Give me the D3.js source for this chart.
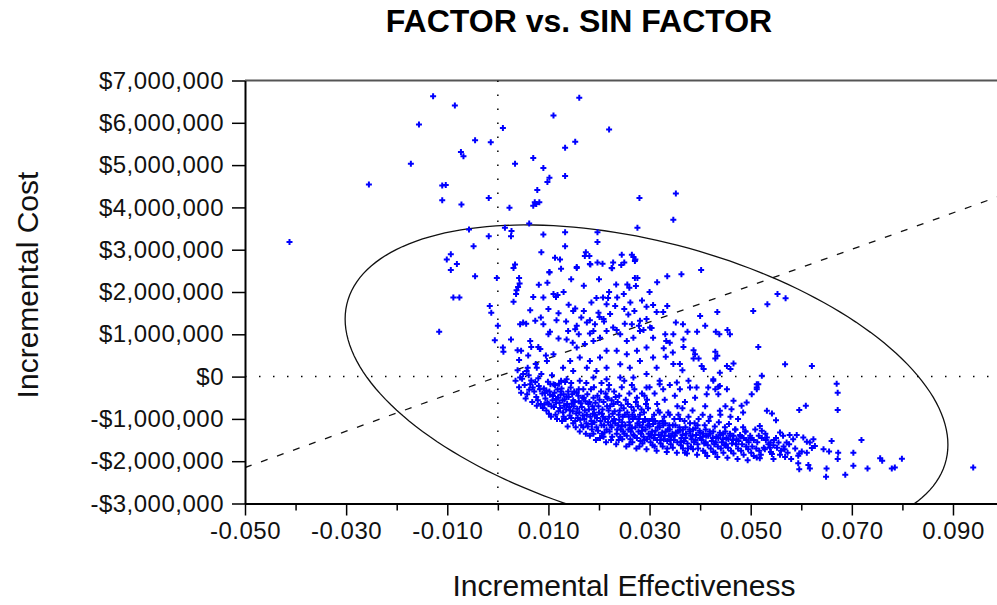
<!DOCTYPE html>
<html lang="en">
<head>
<meta charset="UTF-8">
<title>FACTOR vs. SIN FACTOR</title>
<script src="https://d3js.org/d3.v7.min.js"></script>
<style>
  body { margin: 0; background: #fff; }
  svg { display: block; font-family: "Liberation Sans", Arial, sans-serif; }
  .tick text { font-size: 24px; fill: #111; letter-spacing: 0.5px; }
  .title { font-size: 32px; font-weight: bold; }
  .axis-title { font-size: 30px; fill: #111; }
</style>
</head>
<body>
<svg id="chart" width="997" height="605"></svg>
<script>
// axis ticks
const xTicks = [-0.05, -0.03, -0.01, 0.01, 0.03, 0.05, 0.07, 0.09];
const xMinorTicks = [-0.04, -0.02, 0, 0.02, 0.04, 0.06, 0.08];
const yTicks = [-3000000, -2000000, -1000000, 0, 1000000, 2000000, 3000000, 4000000, 5000000, 6000000, 7000000];

// willingness-to-pay line (effectiveness, cost)
const wtpLine = [[-0.05, -2150000], [0.10, 4300000]];

// confidence ellipse: centre, half-widths, phase of cost vs effectiveness (deg)
const ellipseCentre = [0.0294, -125000];
const ellipseRadii = [0.0596, 3710000];
const ellipsePhase = 66.4;

// simulation iterations: [incremental effectiveness x1000, incremental cost in $ thousands]
const iterations = [
  // sparse upper cloud
  [-12.8,6630],[-8.5,6410],[-15.6,5960],[1.0,5880],[-4.5,5590],[-1.4,5540],[-7.3,5310],[-6.8,5210],[-17.2,5030],
  [-25.5,4540],[-11.0,4520],[-10.3,4530],[-11.0,4170],[-7.2,4070],[-1.8,4220],[-41.2,3180],[-5.7,3480],[-1.8,3320],
  [-4.8,3080],[-9.3,2890],[-10.1,2770],[-8.1,2660],[-9.3,2520],[-4.5,2370],[-0.2,2330],
  [16.1,6590],[11.0,6170],[22.0,5840],[15.3,5550],[13.3,5410],[7.0,5170],[3.4,5030],[9.0,4930],[10.2,4700],[9.8,4600],
  [13.3,4740],[7.8,4410],[7.3,4120],[8.2,4120],[7.0,4040],[7.6,4080],[2.3,3990],[28.0,4220],[35.2,4330],[34.7,3710],
  [27.6,3520],[6.2,3620],[1.4,3520],[2.7,3440],[2.6,3320],[9.0,3360],[13.3,3410],[19.7,3410],[19.7,3180],[13.3,3080],
  [8.6,2940],[17.4,2940],[17.2,2850],[18.1,2850],[11.3,2810],[12.3,2770],[19.7,2700],[18.2,2660],[22.8,2700],[22.5,2570],
  [24.5,2880],[26.5,2880],[26.8,2830],[27.2,2770],[25.0,2700],[3.4,2650],[3.1,2570],[10.2,2470],[15.6,2570],[4.2,2330],
  [27.6,2330],[31.5,2230],[33.5,2370],[36.3,2420],[40.2,2520],
  // middle left
  [-11.6,1060],[-8.8,1870],[-7.6,1870],[-1.6,1670],[-1.3,1510],[0.0,1200],[-0.6,860],[1.0,690],[1.1,590],[2.6,880],
  [3.1,1770],[4.0,2120],[4.3,2200],[3.7,2040],[3.6,1950],[6.4,1570],[5.0,1280],[4.4,1240],[5.6,1250],[7.4,1320],
  [9.0,1240],[8.1,2170],[9.8,2220],[7.0,1880],[9.0,1870],[10.2,2460],[11.0,1950],[11.5,1880],[13.0,2000],[11.8,1930],
  [10.3,1060],[11.6,1330],[15.3,1610],[14.9,1550],[15.6,2590],[18.3,2650],[20.7,2670],[22.6,2560],[24.4,2640],[27.1,2730],
  [18.5,1750],[19.5,1860],[20.8,1870],[21.8,1860],[21.5,1710],[19.9,1510],[20.1,1410],[20.9,1360],[22.2,1480],[23.2,1670],
  [23.6,1870],[24.9,1950],[23.4,2180],[25.6,2180],[27.1,2330],[27.3,2140],[26.2,1750],[25.8,1470],[25.1,1250],[26.5,1240],
  [27.9,1200],[6.6,700],[4.6,610],[4.2,390],[3.9,620],[8.0,700],[8.4,650],
  [16.5,1400],[17.0,1550],[14.0,1700],[12.0,1500],[10.0,1600],[8.5,1400],[13.5,1300],[21.0,1300],[23.5,1100],[25.0,1600],
  [27.0,1550],[28.5,1800],[30.0,2000],[26.0,2100],[22.0,2000],[20.0,2300],[17.0,2150],[14.5,2300],[12.5,2550],[16.0,1000],
  [12.0,900],[10.0,1000],[9.5,500],[7.5,300],[6.0,500],
  [13.9,1080],[15.3,1120],[15.6,1200],[17.6,1280],[18.2,1330],[19.2,1240],[18.9,1080],[18.2,1020],[13.6,880],[14.8,800],
  [15.6,690],[17.2,770],[18.9,840],[20.2,920],[21.5,1080],[22.8,1160],[24.2,1000],[25.5,840],[26.8,920],[28.1,1080],
  [30.1,1160],[30.7,920],[29.4,690],[27.5,610],[25.5,530],[23.5,610],[21.5,610],[20.2,450],[18.2,370],[16.2,450],
  [14.3,370],[12.9,210],[14.9,130],[17.6,210],[19.5,130],[21.5,210],[24.2,290],[26.1,210],[28.1,370],[30.7,450],
  [31.4,210],[29.4,60],[26.8,-20],[24.2,-20],[21.5,-60],[18.9,-20],[16.2,-100],[13.6,-60],[11.0,-180],[9.7,370],
  [11.0,530],[8.3,650],[6.4,840],[7.7,210],[5.7,130],[4.4,-20],[6.4,-180],
  // middle right
  [55.3,1950],[56.9,1850],[53.3,1710],[50.5,1550],[43.4,1530],[40.0,1430],[33.5,1670],[30.7,1690],[29.4,1650],[31.4,1530],
  [32.7,1530],[28.1,1320],[29.4,1360],[30.4,1150],[28.8,1100],[35.2,1280],[36.6,1240],[41.0,1200],[37.5,1060],[39.4,1060],
  [43.1,1060],[43.8,1000],[45.4,1100],[45.9,1000],[51.5,700],[34.7,1000],[33.1,1000],[36.7,880],[36.7,700],[33.3,840],
  [34.0,800],[32.8,670],[34.6,570],[38.7,620],[39.0,530],[38.7,430],[39.7,430],[40.3,250],[40.7,180],[43.0,590],
  [43.4,490],[43.0,430],[45.3,250],[46.0,180],[46.6,310],[33.2,470],[34.7,300],[36.0,300],[36.5,150],[56.8,290],
  [62.1,250],[52.2,20],[51.2,-180],[51.2,-260],[43.9,90],
  [42.6,-100],[43.6,-240],[41.6,-260],[39.3,-260],[37.7,-100],[38.0,-260],[35.4,-140],[36.0,-300],[32.0,-180],[29.4,-260],
  [32.7,-300],
  // right tail
  [67.0,-170],[67.2,-380],[67.2,-790],[94.0,-2150],[79.9,-1940],[78.5,-2150],[77.9,-2170],[75.6,-1930],[76.0,-1990],
  [71.9,-1500],[70.3,-1800],[70.3,-2110],[68.7,-2320],[73.1,-2170],[65.0,-2170],[64.9,-2370],[67.3,-1800],[67.2,-1950],
  [66.0,-1520],[65.5,-1770],[64.4,-1720],[62.4,-1480],[61.7,-1560],[62.7,-1640],[62.1,-1690],[59.6,-2190],[61.4,-2090],
  [61.7,-2170],[59.6,-1820],[59.4,-1870],[60.1,-1770],[61.1,-1800],[59.6,-790],[60.9,-690],[60.4,-1440],[61.1,-1540],
  [59.1,-1380],[53.2,-810],[54.2,-870],[55.0,-1030],[51.8,-1170],[52.2,-1280],[53.2,-1440],[53.9,-1560],[52.8,-1720],
  [54.2,-1830],[51.2,-1910],[51.8,-1930],[55.8,-1320],[56.4,-1400],[57.7,-1380],[58.4,-1480],[57.1,-1560],[55.5,-1560],
  [56.7,-1720],[50.2,-420],[51.5,-180],[51.2,-300],[48.2,-690],[49.2,-610],[46.6,-570],[46.2,-770],[43.9,-810],
  [42.6,-60],[43.9,-220],[45.3,-300],[41.3,-420],[43.6,-420],
  // dense band
  [3.5,-100],[4.2,-250],[4.8,-50],[3.9,150],[4.6,-380],[5.0,60],
  [5.3,-200],[5.8,-420],[6.2,-310],[6.6,-90],[5.5,-520],[6.9,-260],[6.1,30],[6.8,-600],[5.9,210],
  [7.2,-350],[7.6,-480],[8.1,-220],[8.5,-650],[7.9,-560],[8.8,-400],[7.4,-130],[8.3,-300],[8.9,-740],[7.7,-690],[8.6,60],[8.0,-40],
  [9.1,-280],[9.4,-520],[9.8,-610],[10.2,-350],[10.6,-700],[10.9,-460],[9.6,-800],[10.4,-180],[10.1,-880],[9.3,-390],
  [10.8,-560],[9.9,-120],[10.5,-950],[9.2,-660],[10.7,30],
  [11.2,-380],[11.5,-620],[11.9,-500],[12.3,-740],[12.6,-280],[12.9,-850],[11.4,-900],[12.1,-170],[12.8,-560],[11.7,-1000],
  [12.4,-430],[11.1,-720],[12.7,-1050],[11.8,-300],[12.2,-620],[13.0,-420],
  [13.2,-540],[13.5,-780],[13.9,-350],[14.2,-920],[14.6,-640],[14.9,-1100],[13.4,-1000],[14.0,-480],[14.4,-260],[13.7,-650],
  [14.8,-820],[13.3,-130],[14.1,-720],[14.7,-420],[13.8,-1180],[14.5,-980],
  [15.2,-600],[15.5,-870],[15.9,-450],[16.3,-1020],[16.6,-720],[16.9,-300],[15.4,-1200],[16.0,-580],[16.5,-1150],[15.7,-760],
  [16.8,-920],[15.1,-350],[16.2,-1300],[15.8,-980],[16.7,-500],[15.3,-1050],
  [17.2,-800],[17.5,-1100],[17.9,-650],[18.3,-950],[18.6,-1250],[18.9,-500],[17.4,-1350],[18.0,-780],[18.5,-1050],[17.7,-420],
  [18.8,-880],[17.1,-1000],[18.2,-1400],[17.8,-1180],[18.7,-700],[17.3,-580],[18.4,-300],
  [19.2,-900],[19.5,-1200],[19.9,-700],[20.3,-1050],[20.6,-1350],[20.9,-600],[19.4,-1500],[20.0,-850],[20.5,-1150],[19.7,-450],
  [20.8,-950],[19.1,-1080],[20.2,-1450],[19.8,-1280],[20.7,-780],[19.3,-620],[20.4,-350],
  [21.2,-1000],[21.5,-1250],[21.9,-800],[22.3,-1150],[22.6,-1420],[22.9,-650],[21.4,-1550],[22.0,-950],[22.5,-1200],[21.7,-520],
  [22.8,-1050],[21.1,-1320],[22.2,-700],[21.8,-1080],[22.7,-880],[21.3,-400],[22.4,-1500],
  [23.2,-1100],[23.5,-1350],[23.9,-900],[24.3,-1250],[24.6,-1480],[24.9,-750],[23.4,-1600],[24.0,-1020],[24.5,-1180],[23.7,-600],
  [24.8,-1300],[23.1,-820],[24.2,-1420],[23.8,-1150],[24.7,-950],[23.3,-480],[24.4,-680],
  [25.2,-1150],[25.5,-1400],[25.9,-950],[26.3,-1300],[26.6,-1550],[26.9,-800],[25.4,-1650],[26.0,-1080],[26.5,-1220],[25.7,-650],
  [26.8,-1380],[25.1,-900],[26.2,-1480],[25.8,-1250],[26.7,-1000],[25.3,-550],[26.4,-720],
  [27.2,-1200],[27.5,-1450],[27.9,-1000],[28.3,-1350],[28.6,-1580],[28.9,-850],[27.4,-1700],[28.0,-1150],[28.5,-1280],[27.7,-700],
  [28.8,-1420],[27.1,-950],[28.2,-1520],[27.8,-1300],[28.7,-1080],[27.3,-600],[28.4,-780],
  [29.2,-1250],[29.5,-1480],[29.9,-1050],[30.3,-1380],[30.6,-1620],[30.9,-900],[29.4,-1720],[30.0,-1180],[30.5,-1300],[29.7,-750],
  [30.8,-1450],[29.1,-1000],[30.2,-1550],[29.8,-1350],[30.7,-1120],[29.3,-650],
  [31.2,-1280],[31.5,-1500],[31.9,-1100],[32.3,-1400],[32.6,-1650],[32.9,-950],[31.4,-1750],[32.0,-1200],[32.5,-1320],[31.7,-800],
  [32.8,-1480],[31.1,-1050],[32.2,-1580],[31.8,-1380],[32.7,-1150],
  [33.2,-1300],[33.5,-1520],[33.9,-1150],[34.3,-1420],[34.6,-1680],[34.9,-1000],[33.4,-1780],[34.0,-1250],[34.5,-1350],[33.7,-850],
  [34.8,-1500],[33.1,-1100],[34.2,-1600],[33.8,-1400],
  [35.2,-1320],[35.5,-1550],[35.9,-1200],[36.3,-1450],[36.6,-1700],[36.9,-1050],[35.4,-1800],[36.0,-1280],[36.5,-1380],[35.7,-900],
  [36.8,-1520],[35.1,-1150],[36.2,-1620],
  [37.2,-1350],[37.5,-1580],[37.9,-1250],[38.3,-1480],[38.6,-1720],[38.9,-1100],[37.4,-1820],[38.0,-1300],[38.5,-1400],[37.7,-950],
  [38.8,-1550],[37.1,-1200],[38.2,-1650],
  [39.2,-1380],[39.5,-1600],[39.9,-1280],[40.3,-1500],[40.6,-1750],[40.9,-1150],[39.4,-1850],[40.0,-1330],[40.5,-1420],[39.7,-1000],
  [40.8,-1580],[39.1,-1220],
  [41.2,-1400],[41.5,-1620],[41.9,-1300],[42.3,-1520],[42.6,-1780],[42.9,-1180],[41.4,-1880],[42.0,-1350],[42.5,-1450],[41.7,-1050],
  [42.8,-1600],[41.1,-1250],
  [43.2,-1420],[43.5,-1650],[43.9,-1330],[44.3,-1550],[44.6,-1800],[44.9,-1200],[43.4,-1900],[44.0,-1380],[44.5,-1480],[43.7,-1080],
  [44.8,-1620],
  [45.2,-1450],[45.5,-1680],[45.9,-1350],[46.3,-1580],[46.6,-1820],[46.9,-1250],[45.4,-1920],[46.0,-1400],[46.5,-1500],[45.7,-1120],
  [47.2,-1480],[47.5,-1700],[47.9,-1380],[48.3,-1600],[48.6,-1850],[48.9,-1300],[47.4,-1950],[48.0,-1420],[48.5,-1200],
  [49.2,-1500],[49.5,-1720],[49.9,-1400],[50.3,-1650],[50.6,-1880],[50.9,-1250],[49.4,-1980],[50.0,-1450],
  [51.3,-1550],[51.7,-1750],[52.2,-1450],[52.6,-1680],[52.9,-1350],
  [53.5,-1600],[54.0,-1780],[54.6,-1500],[55.2,-1680],[55.8,-1850],
  [56.5,-1650],[57.3,-1800],[58.0,-1950],[58.8,-1700],[59.4,-2050],
  // band infill
  [9.6,-330],[10.3,-430],[11.3,-200],[11.6,-530],[12.0,-820],[12.5,-350],[13.1,-690],[13.6,-470],[14.3,-800],[14.9,-560],
  [13.0,-950],[10.0,-650],
  [15.0,-700],[15.6,-380],[16.1,-850],[16.4,-630],[17.0,-500],[17.6,-900],[18.1,-600],[18.6,-1120],[19.0,-780],[19.6,-980],
  [20.1,-550],[16.9,-1200],[18.9,-1350],
  [20.6,-880],[21.0,-1150],[21.6,-700],[22.1,-1300],[22.5,-560],[23.0,-1000],[23.6,-1250],[24.1,-800],[24.6,-1080],[25.0,-1350],
  [21.9,-300],[23.9,-1500],[20.9,-1420],
  [25.6,-850],[26.1,-1150],[26.6,-900],[27.0,-1400],[27.6,-1100],[28.1,-900],[28.6,-1200],[29.0,-1500],[29.6,-1150],[30.0,-1420],
  [26.0,-1600],[28.0,-1650],[27.5,-500],[29.0,-450],
  [30.5,-1000],[31.0,-1380],[31.6,-1200],[32.1,-1500],[32.6,-1050],[33.0,-1400],[33.6,-1250],[34.1,-1500],[34.6,-1150],[35.0,-1400],
  [32.0,-850],[34.0,-900],[31.0,-1650],[33.5,-1700],
  [35.6,-1300],[36.1,-1550],[36.6,-1250],[37.1,-1450],[37.6,-1700],[38.1,-1400],[38.6,-1250],[39.1,-1500],[39.6,-1700],[40.0,-1450],
  [36.0,-1000],[38.0,-1100],[37.0,-1800],[39.5,-1150],
  [40.6,-1350],[41.1,-1550],[41.6,-1400],[42.1,-1700],[42.6,-1300],[43.1,-1550],[43.6,-1450],[44.1,-1700],[44.6,-1350],[45.1,-1600],
  [45.6,-1480],[46.1,-1750],[41.0,-1800],[43.0,-1800],[45.0,-1300],
  [46.6,-1400],[47.1,-1600],[47.6,-1520],[48.1,-1750],[48.6,-1450],[49.1,-1650],[49.6,-1550],[50.1,-1800],[50.6,-1500],[51.1,-1700],
  [51.6,-1400],[47.0,-1250],[49.0,-1300],
  [53.0,-1500],[53.8,-1680],[54.5,-1620],[55.0,-1450],[56.0,-1750],[56.8,-1900],[57.6,-1600],[52.0,-1850],[54.5,-1950],
  // upper edge of band
  [31.0,-400],[33.0,-550],[35.0,-450],[37.0,-600],[39.0,-500],[41.0,-700],[30.0,-250],[34.0,-200],[36.5,-750],[38.5,-800],
  [40.5,-900],[42.0,-950],[44.0,-900],[46.0,-950],[47.5,-1000],[45.0,-700],[48.5,-850],[43.0,-300],[32.0,-100],[28.5,-400],
  [27.0,-300],[29.5,-550],[31.5,-650],[35.5,-700],
  [22.0,-200],[23.0,-350],[24.5,-250],[26.0,-400],[25.0,-100],[20.5,-150],[19.0,-250],[17.5,-150],[16.0,-300],[14.5,-150],
  [12.5,-100],[21.5,-480],[24.0,-450],[26.5,-200]
];

const svg = d3.select("#chart");
const margin = {top: 80.5, left: 245, bottom: 503.5};

const x = d3.scaleLinear().domain([-0.05, 0.10]).range([margin.left, margin.left + 0.15 * 5057]);
const y = d3.scaleLinear().domain([-3000000, 7000000]).range([margin.bottom, margin.top]);

const plotW = x.range()[1] - margin.left;
const plotH = margin.bottom - margin.top;

svg.append("defs").append("clipPath").attr("id", "plot-clip")
  .append("rect")
  .attr("x", margin.left).attr("y", margin.top)
  .attr("width", plotW).attr("height", plotH);

// title
svg.append("text")
  .attr("class", "title")
  .attr("x", 579).attr("y", 32)
  .attr("text-anchor", "middle")
  .text("FACTOR vs. SIN FACTOR");

// top frame line
svg.append("line")
  .attr("x1", margin.left).attr("x2", x.range()[1])
  .attr("y1", margin.top).attr("y2", margin.top)
  .attr("stroke", "#555").attr("stroke-width", 2);

const plot = svg.append("g").attr("clip-path", "url(#plot-clip)");

// dotted zero lines
plot.append("line")
  .attr("x1", margin.left).attr("x2", x.range()[1])
  .attr("y1", y(0)).attr("y2", y(0))
  .attr("stroke", "#000").attr("stroke-width", 1.5)
  .attr("stroke-dasharray", "1.5,12.5");
plot.append("line")
  .attr("x1", x(0)).attr("x2", x(0))
  .attr("y1", margin.top).attr("y2", margin.bottom)
  .attr("stroke", "#000").attr("stroke-width", 1.5)
  .attr("stroke-dasharray", "1.5,12.5");

// WTP dashed line
plot.append("path")
  .attr("d", d3.line().x(d => x(d[0])).y(d => y(d[1]))(wtpLine))
  .attr("fill", "none")
  .attr("stroke", "#111").attr("stroke-width", 1.3)
  .attr("stroke-dasharray", "7,10");

// confidence ellipse
const rad = Math.PI / 180;
const ellipsePts = d3.range(0, 361, 2).map(a => [
  ellipseCentre[0] + ellipseRadii[0] * Math.cos(a * rad),
  ellipseCentre[1] - ellipseRadii[1] * Math.cos((a - ellipsePhase) * rad)
]);
plot.append("path")
  .attr("d", d3.line().x(d => x(d[0])).y(d => y(d[1]))(ellipsePts))
  .attr("fill", "none")
  .attr("stroke", "#111").attr("stroke-width", 1.3);

// scatter of iterations
plot.selectAll("path.pt")
  .data(iterations)
  .join("path")
  .attr("class", "pt")
  .attr("d", "M-3,0H3M0,-3V3")
  .attr("transform", d => `translate(${x(d[0] / 1000)},${y(d[1] * 1000)})`)
  .attr("stroke", "#0000ff")
  .attr("stroke-width", 2)
  .attr("fill", "none");

// axes
const money = d => (d < 0 ? "-" : "") + "$" + d3.format(",")(Math.abs(d));
const dec = d => d3.format(".3f")(d).replace("\u2212", "-");

const yAxis = svg.append("g")
  .attr("transform", `translate(${margin.left},0)`)
  .call(d3.axisLeft(y).tickValues(yTicks).tickFormat(money).tickSize(13).tickSizeOuter(0).tickPadding(8));

const xMinor = svg.append("g")
  .attr("transform", `translate(0,${margin.bottom})`)
  .call(d3.axisBottom(x).tickValues(xMinorTicks).tickFormat("").tickSize(7).tickSizeOuter(0));

const xAxis = svg.append("g")
  .attr("transform", `translate(0,${margin.bottom})`)
  .call(d3.axisBottom(x).tickValues(xTicks).tickFormat(dec).tickSize(12).tickSizeOuter(0).tickPadding(6));

[yAxis, xMinor, xAxis].forEach(a => {
  a.select(".domain").attr("stroke", "#000").attr("stroke-width", 2);
  a.selectAll(".tick line").attr("stroke", "#000").attr("stroke-width", 1.5);
  a.selectAll(".tick text").style("font-size", "24px");
});

// axis titles
svg.append("text")
  .attr("class", "axis-title")
  .attr("x", 624).attr("y", 596)
  .attr("text-anchor", "middle")
  .text("Incremental Effectiveness");

svg.append("text")
  .attr("class", "axis-title")
  .attr("transform", "translate(38,285) rotate(-90)")
  .attr("text-anchor", "middle")
  .text("Incremental Cost");
</script>
</body>
</html>
